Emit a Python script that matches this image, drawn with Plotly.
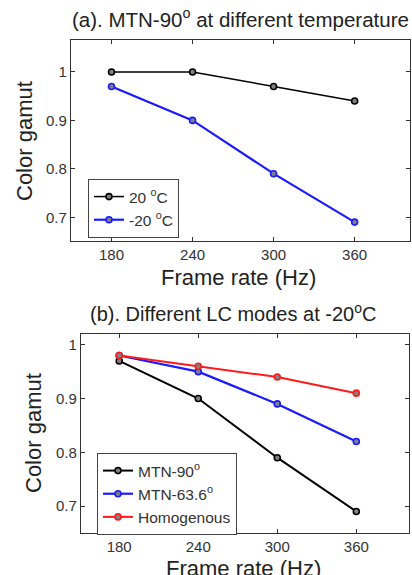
import plotly.graph_objects as go

frame_rate = [180, 240, 300, 360]
x_ticks = [180, 240, 300, 360]
y_ticks = [0.7, 0.8, 0.9, 1.0]
y_tick_text = ["0.7", "0.8", "0.9", "1"]

# Panel (a): MTN-90 at different temperature
a_20C = [1.00, 1.00, 0.97, 0.94]
a_m20C = [0.97, 0.90, 0.79, 0.69]

# Panel (b): Different LC modes at -20C
b_mtn90 = [0.97, 0.90, 0.79, 0.69]
b_mtn636 = [0.98, 0.95, 0.89, 0.82]
b_homog = [0.98, 0.96, 0.94, 0.91]

W, H = 412, 575
FONT = "Liberation Sans, Arial, sans-serif"
TXT = "#222222"

def px(x):
    return x / W

def py(y):
    return 1 - y / H

fig = go.Figure()

def add(x, y, name, color, width, xa, ya, legend):
    fig.add_trace(go.Scatter(
        x=x, y=y, name=name, mode="lines+markers",
        line=dict(color=color, width=width),
        marker=dict(size=6, color="#808080", line=dict(color=color, width=1.6)),
        xaxis=xa, yaxis=ya, legend=legend,
    ))

add(frame_rate, a_20C, "20 <sup>o</sup>C", "black", 1.5, "x", "y", "legend")
add(frame_rate, a_m20C, "-20 <sup>o</sup>C", "#1a1aff", 2.2, "x", "y", "legend")
add(frame_rate, b_mtn90, "MTN-90<sup>o</sup>", "black", 2.0, "x2", "y2", "legend2")
add(frame_rate, b_mtn636, "MTN-63.6<sup>o</sup>", "#1a1aff", 2.2, "x2", "y2", "legend2")
add(frame_rate, b_homog, "Homogenous", "#ff1a1a", 2.0, "x2", "y2", "legend2")

axis_common = dict(
    showline=True, linecolor="#333333", linewidth=1.2, mirror="ticks",
    ticks="inside", ticklen=4, tickcolor="#333333", showgrid=False, zeroline=False,
    tickfont=dict(family=FONT, size=15, color="#333333"),
)

fig.update_layout(
    width=W, height=H,
    margin=dict(l=0, r=0, t=0, b=0),
    paper_bgcolor="white", plot_bgcolor="white",
    font=dict(family=FONT, color=TXT),
    xaxis=dict(domain=[px(71), px(410)], range=[150, 401], tickvals=x_ticks,
               anchor="y", **axis_common),
    yaxis=dict(domain=[py(241), py(40)], range=[0.651, 1.066], tickvals=y_ticks,
               ticktext=y_tick_text, anchor="x", **axis_common),
    xaxis2=dict(domain=[px(81), px(409)], range=[151, 400], tickvals=x_ticks,
                anchor="y2", **axis_common),
    yaxis2=dict(domain=[py(533), py(334)], range=[0.65, 1.02], tickvals=y_ticks,
                ticktext=y_tick_text, anchor="x2", **axis_common),
    legend=dict(x=px(88), y=py(179), xanchor="left", yanchor="top",
                bordercolor="#444444", borderwidth=1, bgcolor="white",
                font=dict(family=FONT, size=15.5, color="#333333"),
                tracegroupgap=0, itemwidth=30),
    legend2=dict(x=px(97), y=py(453), xanchor="left", yanchor="top",
                 bordercolor="#444444", borderwidth=1, bgcolor="white",
                 font=dict(family=FONT, size=15.5, color="#333333"),
                 tracegroupgap=0, itemwidth=30),
    showlegend=True,
)

annotations = [
    dict(text="(a). MTN-90<sup>o</sup> at different temperature", x=px(70), y=py(18),
         xanchor="left", yanchor="middle", font=dict(size=20.5)),
    dict(text="Frame rate (Hz)", x=px(239), y=py(277), xanchor="center",
         yanchor="middle", font=dict(size=22)),
    dict(text="Color gamut", x=px(24), y=py(141), xanchor="center",
         yanchor="middle", textangle=-90, font=dict(size=22)),
    dict(text="(b). Different LC modes at -20<sup>o</sup>C", x=px(233), y=py(312),
         xanchor="center", yanchor="middle", font=dict(size=20)),
    dict(text="Frame rate (Hz)", x=px(244), y=py(568), xanchor="center",
         yanchor="middle", font=dict(size=22)),
    dict(text="Color gamut", x=px(33), y=py(433), xanchor="center",
         yanchor="middle", textangle=-90, font=dict(size=22)),
]
for a in annotations:
    a.update(xref="paper", yref="paper", showarrow=False)
    a["font"].update(family=FONT, color=TXT)
fig.update_layout(annotations=annotations)

fig.write_html(
    "out.html",
    config={"displayModeBar": False},
    post_script="document.body.style.margin='0px';document.body.style.overflow='hidden';",
)
